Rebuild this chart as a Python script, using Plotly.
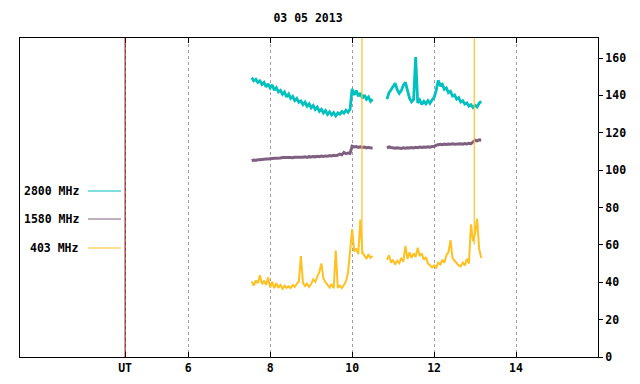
import plotly.graph_objects as go

TITLE = "03 05 2013"
SERIES_NAMES = ["2800 MHz", "1580 MHz", "403 MHz"]
SERIES_COLORS = ["#00c0c0", "#7f6080", "#ffc020"]

# sample times (UT hours) of the two observing segments
T1_START, T1_N = 7.55, 60
T2_START, T2_N = 10.85, 47
STEP = 0.05
t_seg1 = [round(T1_START + i * STEP, 2) for i in range(T1_N)]
t_seg2 = [round(T2_START + i * STEP, 2) for i in range(T2_N)]

x_ticks = [4.46, 6, 8, 10, 12, 14]
x_tick_text = ["UT", "6", "8", "10", "12", "14"]
y_ticks = [0, 20, 40, 60, 80, 100, 120, 140, 160]
ut_marker = 4.46

f2800_seg1 = [149.5, 147.8, 148.6, 146.9, 147.8, 145.8, 146.9, 144.5, 146.2,
              144.0, 145.6, 142.8, 144.2, 141.9, 142.7, 140.6, 141.8, 139.2, 140.7,
              138.4, 139.5, 137.2, 138.4, 136.3, 137.0, 135.1, 136.4, 134.2, 135.5,
              133.3, 134.6, 132.4, 133.7, 131.5, 132.6, 130.6, 131.9, 129.8, 131.2,
              129.5, 130.8, 129.0, 130.6, 129.9, 131.4, 130.5, 132.1, 131.0, 132.6,
              143.5, 140.2, 142.6, 139.5, 141.3, 138.4, 140.2, 137.9, 139.1, 136.8, 137.9]
f2800_seg2 = [138.0, 141.5, 143.0,
              144.5, 146.5, 143.0, 141.0, 142.5, 145.5, 147.0, 142.0, 138.5, 136.5,
              137.8, 160.5, 136.0, 137.5, 135.2, 136.8, 135.5, 137.2, 135.8, 137.5,
              139.0, 142.5, 148.0, 145.5, 146.0, 143.2, 144.0, 141.5, 142.2, 139.6,
              140.2, 138.0, 138.8, 136.5, 137.2, 135.3, 136.0, 134.2, 135.0, 133.5,
              134.6, 133.8, 135.8, 136.8]

f1580_seg1 = [105.0, 105.4, 105.2, 105.6, 105.5, 105.8, 105.7, 106.0, 105.9,
              106.2, 106.1, 106.4, 106.3, 106.6, 106.5, 106.7, 106.6, 106.9, 106.7,
              106.8, 106.6, 106.9, 106.8, 107.0, 106.7, 106.9, 107.1, 106.8, 107.2,
              107.0, 107.3, 107.1, 107.4, 107.2, 107.5, 107.3, 107.6, 107.4, 107.8,
              107.6, 107.9, 107.7, 108.0, 108.6, 108.2, 109.5, 108.8, 109.2, 109.0,
              112.8, 112.4, 112.6, 112.2, 112.5, 112.1, 112.3, 111.9, 112.2, 111.8, 112.0]
f1580_seg2 = [111.8, 112.4, 112.1,
              111.9, 111.7, 112.0, 111.8, 111.6, 111.9, 111.7, 112.0, 111.8, 112.1,
              111.9, 112.2, 112.0, 112.3, 112.1, 112.4, 112.2, 112.5, 112.3, 112.6,
              112.6, 113.3, 113.6, 113.8, 113.6, 113.9, 113.7, 114.0, 113.8, 114.1,
              113.9, 114.0, 113.8, 114.1, 113.9, 114.2, 114.0, 114.3, 114.1, 115.2,
              116.0, 115.6, 116.2, 116.0]

f403_seg1 = [40.5, 38.2, 41.0, 39.5, 43.8, 39.0, 40.8, 38.6, 42.5,
             37.2, 40.2, 36.8, 39.5, 37.0, 38.6, 36.5, 38.2, 37.0, 37.8,
             36.9, 38.5, 37.5, 39.2, 40.5, 54.0, 39.8, 38.0, 39.2, 37.5,
             39.0, 41.5, 40.2, 43.0, 45.5, 50.0, 42.0, 40.0, 38.6, 37.2,
             39.0, 36.8, 57.0, 37.0, 38.2, 36.9, 38.5, 40.5, 45.0, 58.0,
             68.5, 56.5, 58.0, 55.0, 73.5, 56.0, 54.0, 52.5, 55.0, 53.0, 54.0]
f403_seg2 = [52.0, 54.5, 50.5,
             52.0, 49.5, 51.5, 50.2, 53.0, 51.0, 59.5, 52.5, 56.0, 53.0,
             55.5, 53.5, 58.5, 54.0, 55.5, 52.0, 53.5, 50.0, 49.0, 48.0,
             49.0, 47.8, 50.5, 49.5, 52.0, 50.5, 54.5, 56.0, 62.5, 53.0,
             51.5, 50.0, 49.0, 48.5, 50.5, 49.0, 52.5, 50.0, 71.0, 62.0,
             66.0, 74.0, 58.0, 53.0]

# isolated 403 MHz bursts going off scale
f403_burst_times = [10.24, 12.98]
f403_burst_base = [55.0, 60.0]
f403_burst_peak = [260.0, 260.0]

FONT = "DejaVu Sans Mono"
LINE_WIDTHS = [2.8, 3.0, 2.0]

x_all = t_seg1 + [None] + t_seg2
series = [f2800_seg1 + [None] + f2800_seg2,
          f1580_seg1 + [None] + f1580_seg2,
          f403_seg1 + [None] + f403_seg2]

fig = go.Figure()
for name, color, ys, lw in zip(SERIES_NAMES, SERIES_COLORS, series, LINE_WIDTHS):
    fig.add_trace(go.Scatter(x=x_all, y=ys, mode="lines", name=name,
                             line=dict(color=color, width=lw),
                             connectgaps=False, showlegend=False))

bx, by = [], []
for t, b, p in zip(f403_burst_times, f403_burst_base, f403_burst_peak):
    bx += [t, t, None]
    by += [b, p, None]
fig.add_trace(go.Scatter(x=bx, y=by, mode="lines", line=dict(color=SERIES_COLORS[2], width=1.2),
                         showlegend=False, connectgaps=False))

# UT marker line
fig.add_shape(type="line", x0=ut_marker, x1=ut_marker, y0=0, y1=1,
              xref="x", yref="paper", line=dict(color="#8b0000", width=1))

# custom legend (text right of which a sample line is drawn)
leg_y = [(357 - 191) / 319, (357 - 219) / 319, (357 - 248) / 319]
for name, color, yy in zip(SERIES_NAMES, SERIES_COLORS, leg_y):
    fig.add_annotation(x=(81 - 20) / 578, y=yy, xref="paper", yref="paper",
                       text="<b>" + name + "</b>", showarrow=False,
                       xanchor="right", yanchor="middle",
                       font=dict(family=FONT, size=11.5, color="#000000"))
    fig.add_shape(type="line", xref="paper", yref="paper",
                  x0=(88 - 20) / 578, x1=(121 - 20) / 578, y0=yy, y1=yy,
                  line=dict(color=color, width=1))

# page has an 8px body margin: figure of 632x376 lands at (8,8)
W, H = 632, 376
fig.update_layout(
    width=W, height=H,
    margin=dict(l=12, r=42, t=30, b=27, autoexpand=False),
    paper_bgcolor="white", plot_bgcolor="white",
    title=dict(text="<b>" + TITLE + "</b>", x=300 / W, xanchor="center",
               xref="container", y=1 - 10 / H, yanchor="middle",
               font=dict(family=FONT, size=11.5, color="#000000")),
    font=dict(family=FONT, size=11.5, color="#000000"),
)
fig.update_xaxes(range=[1.895, 16.0], tickvals=x_ticks, automargin=False,
                 ticktext=["<b>" + t + "</b>" for t in x_tick_text],
                 showgrid=True, gridcolor="#a0a0a0", griddash="dot", gridwidth=1,
                 zeroline=False, showline=True, linecolor="#000000", linewidth=1,
                 mirror="ticks", ticks="inside", ticklen=5, tickcolor="#000000",
                 tickfont=dict(family=FONT, size=11.5, color="#000000"))
fig.update_yaxes(range=[0, 170.7], side="right", tickvals=y_ticks, automargin=False,
                 ticktext=["<b>%d</b>" % v for v in y_ticks],
                 showgrid=False, zeroline=False, showline=True,
                 linecolor="#000000", linewidth=1, mirror=True,
                 ticks="outside", ticklen=4, tickcolor="#000000",
                 tickfont=dict(family=FONT, size=11.5, color="#000000"))

fig.write_html("out.html")
